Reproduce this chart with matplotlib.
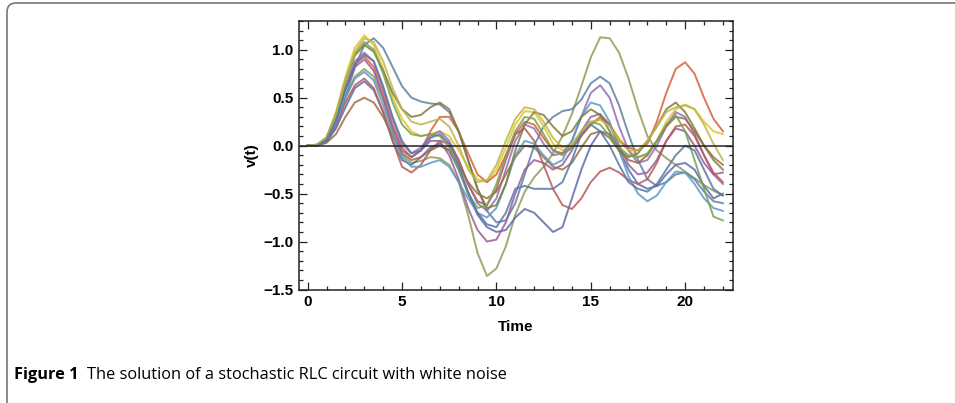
import matplotlib
matplotlib.use("Agg")
import matplotlib.pyplot as plt
from matplotlib.patches import FancyBboxPatch
from matplotlib.ticker import MultipleLocator
import numpy as np

# sample times, every half unit from 0 to 22
t = np.arange(0, 22.5, 0.5)

# sample paths (v at each t)
olive = [0, 0, .06, .24, .5, .72, .80, .72, .48, .15, -.1, -.18, -.16, -.12, -.13, -.2, -.38,
         -.72, -1.12, -1.36, -1.28, -1.05, -.72, -.48, -.33, -.22, -.08, .1, .33, .62, .92,
         1.13, 1.12, .97, .7, .38, .1, -.05, -.13, -.2, -.27, -.34, -.41, -.47, -.52]
slate = [0, 0, .04, .2, .5, .82, 1.05, 1.12, 1.02, .82, .62, .5, .46, .44, .43, .35, .15,
         -.15, -.45, -.68, -.8, -.78, -.6, -.3, 0, .2, .3, .36, .38, .48, .65, .72, .65,
         .42, .12, -.15, -.35, -.42, -.38, -.3, -.28, -.35, -.48, -.58, -.6]
yellow = [0, .01, .09, .35, .72, 1.02, 1.15, 1.05, .8, .5, .28, .15, .1, .12, .15, .1, -.05,
          -.22, -.35, -.38, -.25, -.02, .22, .36, .35, .2, .02, -.05, -.02, .1, .22, .28, .22,
          .08, -.05, -.12, -.1, .05, .25, .38, .43, .38, .25, .15, .12]
orange = [0, .01, .08, .3, .6, .85, .93, .82, .55, .22, -.02, -.12, -.05, .15, .3, .3, .15,
          -.08, -.3, -.38, -.3, -.1, .12, .25, .22, .08, -.05, -.08, -.02, .1, .22, .3, .22,
          .05, -.02, -.05, .02, .25, .55, .8, .87, .75, .5, .28, .15]
purple = [0, 0, .07, .28, .6, .88, .97, .88, .6, .28, .02, -.08, -.02, .1, .15, .05, -.15,
          -.4, -.6, -.68, -.55, -.25, .05, .22, .18, .02, -.1, -.08, .05, .3, .55, .63, .5,
          .2, -.05, -.18, -.15, 0, .2, .35, .3, .12, -.1, -.3, -.4]
navy = [0, 0, .04, .18, .4, .6, .67, .58, .35, .05, -.15, -.2, -.12, -.02, .02, -.05, -.25,
        -.5, -.72, -.85, -.9, -.88, -.75, -.66, -.7, -.8, -.9, -.85, -.55, -.25, 0, .15, .12,
        -.05, -.25, -.4, -.45, -.42, -.3, -.2, -.18, -.25, -.42, -.55, -.5]
magenta = [0, 0, .07, .28, .58, .82, .9, .78, .5, .18, -.05, -.12, -.05, .05, .05, -.1, -.35,
           -.65, -.88, -1.0, -.98, -.8, -.5, -.25, -.15, -.18, -.25, -.2, -.05, .15, .3, .33,
           .22, 0, -.2, -.3, -.28, -.15, .05, .18, .15, 0, -.18, -.3, -.28]
redbrown = [0, 0, .06, .22, .45, .63, .7, .6, .35, .05, -.22, -.28, -.2, -.05, .05, .02, -.15,
            -.4, -.58, -.62, -.45, -.15, .12, .18, .05, -.2, -.45, -.62, -.66, -.55, -.38,
            -.27, -.23, -.28, -.36, -.4, -.35, -.18, .05, .2, .22, .1, -.1, -.28, -.38]
brown = [0, 0, .03, .12, .3, .45, .5, .45, .3, .1, -.08, -.15, -.12, -.05, 0, -.05, -.2,
         -.38, -.5, -.55, -.48, -.3, -.12, 0, -.02, -.12, -.22, -.25, -.18, -.02, .12, .15,
         .08, -.05, -.15, -.18, -.1, .05, .2, .3, .28, .15, 0, -.12, -.2]
teal = [0, 0, .06, .24, .5, .7, .77, .68, .42, .12, -.12, -.22, -.22, -.18, -.15, -.22, -.38,
        -.55, -.7, -.75, -.65, -.4, -.1, .05, .02, -.1, -.2, -.15, .05, .3, .45, .42, .25,
        -.05, -.32, -.5, -.58, -.52, -.38, -.27, -.28, -.4, -.55, -.65, -.68]
darkolive = [0, .01, .08, .32, .66, .94, 1.05, .98, .78, .55, .38, .3, .32, .4, .45, .38, .15,
             -.15, -.45, -.65, -.62, -.4, -.05, .22, .35, .32, .2, .1, .15, .3, .38, .32, .15,
             -.05, -.12, -.08, .05, .2, .38, .45, .35, .18, 0, -.15, -.25]
green = [0, .01, .08, .33, .68, .96, 1.08, 1.0, .75, .45, .22, .12, .1, .12, .1, -.02, -.25,
         -.5, -.65, -.62, -.4, -.1, .15, .3, .28, .12, -.05, -.1, -.02, .15, .25, .22, .1,
         -.02, -.1, -.12, -.08, .05, .22, .32, .15, -.15, -.45, -.74, -.78]
khaki = [0, .01, .08, .32, .68, .98, 1.12, 1.08, .88, .6, .38, .25, .22, .25, .28, .2, 0,
         -.25, -.38, -.36, -.2, .05, .28, .4, .38, .25, .08, -.02, .02, .15, .25, .27, .2,
         .05, -.05, -.05, .05, .2, .35, .4, .42, .38, .22, .02, -.15]
steel = [0, 0, .06, .26, .58, .85, .95, .88, .62, .3, .05, -.08, -.05, .08, .12, .02, -.2,
         -.48, -.7, -.82, -.85, -.7, -.45, -.42, -.45, -.45, -.45, -.38, -.15, .12, .22, .15,
         0, -.2, -.38, -.45, -.48, -.4, -.25, -.1, 0, -.05, -.25, -.45, -.52]

paths = [olive, slate, yellow, orange, purple, navy, magenta, redbrown, brown, teal,
         darkolive, green, khaki, steel]
colors = ["#8f9c5a", "#5f7fa3", "#e2c52c", "#d9623a", "#8f70b8", "#5f69a8", "#9a5c9c",
          "#b85a55", "#9c6c48", "#5e9ac2", "#7f7c3c", "#78a055", "#bdb64a", "#5778a8"]

xticks = [0, 5, 10, 15, 20]
yticks = [-1.5, -1.0, -0.5, 0.0, 0.5, 1.0]

fig = plt.figure(figsize=(9.55, 4.03), dpi=100)
ax = fig.add_axes([299 / 955, 1 - 289.5 / 403, 433.7 / 955, 268.5 / 403])

for v, c in zip(paths, colors):
    ax.plot(t, v, color=c, lw=1.4, alpha=0.85, solid_joinstyle="round")
ax.axhline(0, color="#222222", lw=1.1)

lab_font = dict(family="Liberation Sans", fontweight="bold")
ax.set_xlim(-0.46, 22.52)
ax.set_ylim(-1.5, 1.3)
ax.set_xticks(xticks)
ax.set_yticks(yticks)
ax.xaxis.set_minor_locator(MultipleLocator(1))
ax.yaxis.set_minor_locator(MultipleLocator(0.1))
ax.tick_params(which="both", direction="in", top=True, right=True, width=0.9, color="#222222")
ax.tick_params(which="major", length=5.5, pad=4)
ax.tick_params(which="minor", length=2.7)
ax.set_xticklabels([str(x) for x in xticks], fontsize=11, **lab_font)
ax.set_yticklabels([f"{y:.1f}".replace("-", "\u2212") for y in yticks], fontsize=11, **lab_font)
for s in ax.spines.values():
    s.set_linewidth(1.1)
    s.set_color("#222222")
ax.set_xlabel("Time", fontsize=11, labelpad=8, **lab_font)
ax.set_ylabel("v(t)", fontsize=11, labelpad=3, **lab_font)

# framing box of the journal figure
box = FancyBboxPatch((7, -12), 990, 412, boxstyle="round,pad=0,rounding_size=9",
                     transform=None, fill=False, edgecolor="#777777", lw=1.2)
fig.add_artist(box)

fig.text(14 / 955, 1 - 375 / 403, "Figure 1", fontsize=11.8, fontweight="bold",
         family="Open Sans", va="center", ha="left")
fig.text(87 / 955, 1 - 375 / 403, "The solution of a stochastic RLC circuit with white noise",
         fontsize=11.8, family="Open Sans", va="center", ha="left")

fig.savefig("out.png", dpi=100)
